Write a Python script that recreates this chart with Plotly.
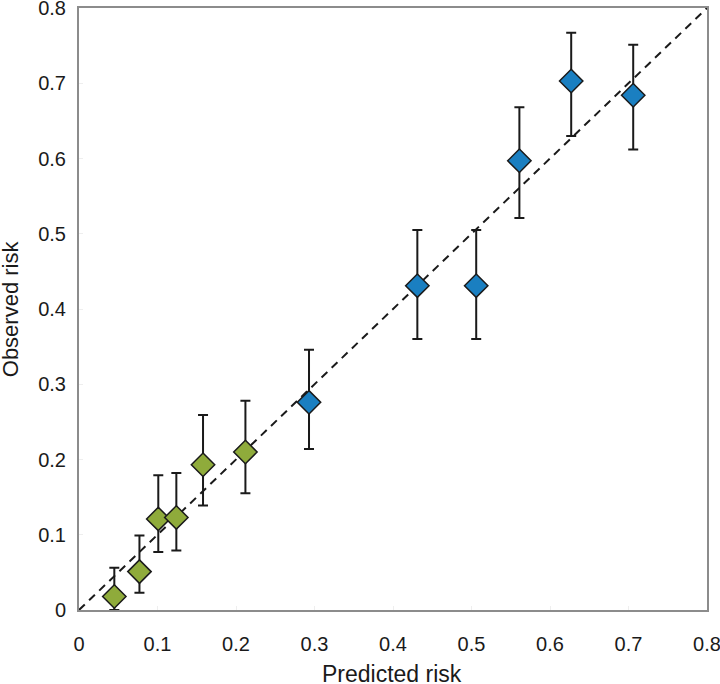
import plotly.graph_objects as go

green_x = [0.045, 0.077, 0.101, 0.124, 0.158, 0.212]
green_y = [0.018, 0.051, 0.121, 0.123, 0.193, 0.210]
green_hi = [0.056, 0.099, 0.179, 0.182, 0.259, 0.278]
green_lo = [0.0, 0.023, 0.077, 0.079, 0.139, 0.155]

blue_x = [0.293, 0.431, 0.506, 0.561, 0.627, 0.706]
blue_y = [0.276, 0.431, 0.431, 0.597, 0.703, 0.684]
blue_hi = [0.346, 0.505, 0.505, 0.668, 0.767, 0.751]
blue_lo = [0.214, 0.360, 0.360, 0.521, 0.630, 0.612]

ref_line = [0, 0.8]
ticks = [0, 0.1, 0.2, 0.3, 0.4, 0.5, 0.6, 0.7, 0.8]
tick_text = ["0", "0.1", "0.2", "0.3", "0.4", "0.5", "0.6", "0.7", "0.8"]

FONT = "Liberation Sans, Arial"
TXT = "#1a1a1a"

fig = go.Figure()
fig.add_trace(go.Scatter(x=ref_line, y=ref_line, mode="lines",
                         line=dict(color="#1a1a1a", width=2, dash="8px,6px"),
                         showlegend=False, hoverinfo="skip", cliponaxis=False))

def add_series(xs, ys, hi, lo, color):
    fig.add_trace(go.Scatter(
        x=xs, y=ys, mode="markers",
        error_y=dict(type="data", symmetric=False,
                     array=[h - y for h, y in zip(hi, ys)],
                     arrayminus=[y - l for y, l in zip(ys, lo)],
                     color="#1a1a1a", thickness=2, width=5),
        marker=dict(symbol="diamond", size=18, color=color,
                    line=dict(color="#1a1a1a", width=1.5)),
        showlegend=False, cliponaxis=False))

add_series(green_x, green_y, green_hi, green_lo, "#8fab3b")
add_series(blue_x, blue_y, blue_hi, blue_lo, "#1a7fc1")

axis_common = dict(range=[0, 0.8], tickvals=ticks, ticktext=tick_text,
                   showgrid=False, zeroline=False, showline=True,
                   linecolor="#8c8c8c", linewidth=2, mirror=True,
                   ticks="inside", ticklen=4, tickcolor="#eeeeee",
                   automargin=False, ticklabeloverflow="allow",
                   tickfont=dict(family=FONT, size=20, color=TXT))

fig.update_layout(
    width=720, height=684,
    margin=dict(l=79, r=13, t=8, b=74),
    paper_bgcolor="white", plot_bgcolor="white",
    xaxis=dict(**axis_common, ticklabelstandoff=15),
    yaxis=dict(**axis_common, ticklabelstandoff=7),
    annotations=[
        dict(text="Predicted risk", xref="paper", yref="paper", x=0.499, y=-0.106,
             xanchor="center", yanchor="middle", showarrow=False,
             font=dict(family=FONT, size=23, color=TXT)),
        dict(text="Observed risk", xref="paper", yref="paper", x=-0.1095, y=0.5,
             xanchor="center", yanchor="middle", showarrow=False, textangle=-90,
             font=dict(family=FONT, size=22, color=TXT)),
    ],
)

fig.write_html("out.html", config={"displayModeBar": False},
               post_script="document.body.style.margin='0';document.body.style.overflow='hidden';")
